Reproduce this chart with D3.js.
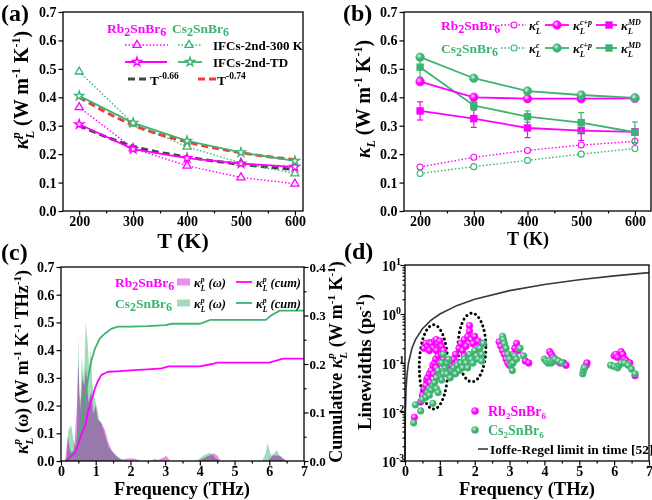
<!DOCTYPE html>
<html>
<head>
<meta charset="utf-8">
<script src="https://cdn.jsdelivr.net/npm/d3@7"></script>
<style>body{margin:0;background:#fff}</style>
</head>
<body>
<script>
// ---- data (a) ----
const temps = [200, 300, 400, 500, 600];
const rb300 = [0.365, 0.220, 0.159, 0.118, 0.096];
const cs300 = [0.490, 0.308, 0.226, 0.169, 0.132];
const rbTD = [0.305, 0.218, 0.186, 0.167, 0.155];
const csTD = [0.405, 0.310, 0.247, 0.206, 0.176];
const fit066 = [0.300, 0.228, 0.190, 0.164, 0.146];
const fit074 = [0.400, 0.302, 0.243, 0.205, 0.180];

// ---- data (b) ----
const rbC = [0.155, 0.189, 0.213, 0.232, 0.245];
const csC = [0.132, 0.156, 0.178, 0.200, 0.220];
const rbCP = [0.455, 0.400, 0.395, 0.395, 0.396];
const csCP = [0.541, 0.467, 0.422, 0.408, 0.398];
const rbMD = [0.352, 0.325, 0.292, 0.283, 0.278];
const rbMDerr = [0.032, 0.031, 0.034, 0.035, 0.012];
const csMD = [0.506, 0.371, 0.332, 0.311, 0.277];
const csMDerr = [0.035, 0.016, 0.020, 0.035, 0.036];

// ---- data (c) ----
const specFreqCs = [0.10, 0.16, 0.21, 0.29, 0.36, 0.42, 0.46, 0.50, 0.53, 0.56, 0.60, 0.64, 0.68, 0.71, 0.76, 0.81, 0.86, 0.90, 0.96, 1.00, 1.06, 1.10, 1.17, 1.25, 1.37, 1.50, 1.70, 1.85, 2.00,
  3.90, 4.10, 4.20, 4.30, 4.45, 4.60, 5.80, 5.90, 5.95, 6.05, 6.15, 6.22, 6.30, 6.45];
const specCs = [0, 0, 0.11, 0.13, 0.076, 0.05, 0.10, 0.45, 0.24, 0.22, 0.38, 0.30, 0.36, 0.50, 0.44, 0.34, 0.40, 0.28, 0.23, 0.21, 0.18, 0.15, 0.135, 0.10, 0.05, 0.03, 0.01, 0.003, 0,
  0, 0.02, 0.025, 0.03, 0.01, 0, 0, 0.03, 0.065, 0.02, 0.03, 0.039, 0.02, 0];
const specFreqRb = [0.12, 0.19, 0.26, 0.36, 0.45, 0.50, 0.55, 0.62, 0.67, 0.72, 0.79, 0.87, 0.93, 1.00, 1.06, 1.17, 1.27, 1.37, 1.46, 1.60, 1.75, 1.85, 2.00, 2.15, 2.30,
  2.60, 2.70, 2.80, 2.90, 3.04, 3.15, 3.95, 4.20, 4.40, 4.50, 4.60, 5.95, 6.10, 6.25, 6.35, 6.50];
const specRb = [0, 0.09, 0.04, 0.02, 0.18, 0.36, 0.18, 0.30, 0.27, 0.34, 0.21, 0.25, 0.17, 0.20, 0.15, 0.135, 0.11, 0.065, 0.04, 0.016, 0.004, 0.008, 0.01, 0.008, 0,
  0, 0.008, 0.004, 0.01, 0.018, 0, 0, 0.015, 0.028, 0.02, 0, 0, 0.02, 0.02, 0.015, 0];
const cumFreqCs = [0.12, 0.26, 0.40, 0.45, 0.52, 0.60, 0.69, 0.79, 0.88, 0.98, 1.12, 1.27, 1.46, 1.65, 2.0, 2.5, 3.0, 3.2, 4.0, 4.3, 5.9, 6.05, 6.3, 7.0];
const cumCs = [0, 0.009, 0.023, 0.026, 0.057, 0.071, 0.133, 0.175, 0.208, 0.232, 0.253, 0.263, 0.273, 0.277, 0.277, 0.278, 0.280, 0.283, 0.283, 0.291, 0.291, 0.300, 0.310, 0.310];
const cumFreqRb = [0.15, 0.26, 0.40, 0.50, 0.60, 0.69, 0.79, 0.88, 0.98, 1.06, 1.17, 1.27, 1.36, 1.6, 2.0, 2.5, 2.9, 3.1, 4.0, 4.35, 4.5, 6.0, 6.4, 7.0];
const cumRb = [0, 0.009, 0.016, 0.036, 0.057, 0.071, 0.105, 0.126, 0.150, 0.164, 0.178, 0.181, 0.184, 0.185, 0.187, 0.189, 0.191, 0.195, 0.195, 0.200, 0.203, 0.203, 0.211, 0.211];

// ---- data (d) [freq THz, linewidth ps^-1] ----
const lwRb = [[0.27,0.0078],[0.45,0.016],[0.5,0.022],[0.55,0.03],[0.6,0.035],[0.62,0.045],[0.65,0.05],[0.7,0.06],[0.72,0.04],[0.75,0.07],[0.8,0.09],[0.82,0.06],[0.85,0.1],[0.88,0.12],[0.9,0.08],[0.95,0.14],[1.0,0.1],[1.05,0.15],[1.1,0.12],
  [0.55,0.2],[0.6,0.25],[0.65,0.22],[0.7,0.26],[0.75,0.25],[0.8,0.2],[0.85,0.28],[0.9,0.3],[0.95,0.25],[1.0,0.28],[1.05,0.22],[1.1,0.18],[0.7,0.18],[0.9,0.18],
  [1.25,0.07],[1.3,0.09],[1.35,0.06],[1.4,0.12],[1.45,0.15],[1.5,0.1],[1.55,0.2],[1.6,0.25],[1.65,0.18],[1.7,0.3],[1.75,0.22],[1.8,0.35],[1.85,0.58],[1.85,0.45],[1.9,0.3],[1.95,0.25],[2.0,0.35],[2.05,0.2],[2.1,0.28],[2.15,0.15],[2.2,0.25],[1.7,0.14],[2.0,0.15],
  [2.7,0.27],[2.75,0.22],[2.8,0.18],[2.85,0.15],[2.9,0.12],[2.95,0.1],[3.0,0.09],[3.05,0.12],[3.1,0.15],[3.15,0.2],[3.2,0.25],[3.25,0.18],[3.45,0.11],[3.55,0.1],
  [4.15,0.17],[4.2,0.15],[4.25,0.13],[4.3,0.12],[4.35,0.11],[4.45,0.1],[4.55,0.1],[4.62,0.09],
  [5.15,0.08],[5.2,0.09],[5.22,0.1],
  [6.0,0.14],[6.05,0.15],[6.1,0.13],[6.2,0.17],[6.25,0.15],[6.3,0.12],[6.35,0.11],[6.45,0.1],[6.6,0.055]];
const lwCs = [[0.25,0.006],[0.3,0.014],[0.45,0.0105],[0.5,0.018],[0.6,0.02],[0.65,0.025],[0.7,0.03],[0.75,0.028],[0.8,0.015],[0.8,0.035],[0.85,0.04],[0.9,0.03],[0.95,0.025],[1.0,0.05],[1.05,0.045],[0.9,0.05],[0.7,0.022],[1.1,0.06],[1.15,0.08],[1.2,0.1],[1.2,0.06],[1.25,0.12],[1.1,0.15],[1.05,0.1],[0.95,0.07],
  [1.3,0.05],[1.35,0.07],[1.4,0.08],[1.45,0.06],[1.5,0.09],[1.55,0.07],[1.6,0.1],[1.65,0.08],[1.7,0.12],[1.75,0.1],[1.8,0.08],[1.85,0.15],[1.9,0.12],[1.95,0.1],[2.0,0.18],[2.05,0.14],[2.1,0.12],[2.15,0.2],[2.2,0.15],[2.25,0.25],[2.2,0.11],
  [2.8,0.35],[2.82,0.3],[2.85,0.25],[2.9,0.2],[2.95,0.15],[3.0,0.12],[3.05,0.09],[3.08,0.07],[3.1,0.1],[3.15,0.14],[3.2,0.12],[3.3,0.2],[3.4,0.14],
  [4.0,0.12],[4.05,0.11],[4.1,0.1],[4.15,0.11],[4.2,0.1],[4.25,0.11],[4.3,0.12],[4.4,0.11],[4.5,0.1],
  [5.1,0.06],[5.12,0.07],[5.15,0.08],
  [5.9,0.09],[6.0,0.085],[6.1,0.08],[6.15,0.09],[6.2,0.1],[6.3,0.1],[6.4,0.09],[6.5,0.075],[6.6,0.06]];
const ioffeFreq = [0.001, 0.003, 0.01, 0.03, 0.06, 0.1, 0.2, 0.3, 0.5, 0.75, 1, 1.5, 2, 3, 4, 5, 6, 7];
const ioffeLw = [0.001, 0.003, 0.01, 0.03, 0.06, 0.1, 0.2, 0.3, 0.5, 0.75, 1, 1.5, 2, 3, 4, 5, 6, 7];
// dotted ellipses: centre freq, centre linewidth, half-width (THz), half-height (decades)
const circF = [0.82, 1.92], circY = [0.083, 0.207], circRF = [0.41, 0.40], circRD = [0.86, 0.70];

const FONT = "'Liberation Serif','Times New Roman',serif";
const MAG = '#ff00ff', GRN = '#3cb371';

const svg = d3.select('body').append('svg')
  .attr('width', 652).attr('height', 500)
  .style('font-family', FONT).style('font-weight', 'bold');

const defs = svg.append('defs');
[['gm', '#ffd6ff', MAG], ['gg', '#d2f2df', GRN]].forEach(([id, c0, c1]) => {
  const rg = defs.append('radialGradient').attr('id', id).attr('cx', '38%').attr('cy', '35%').attr('r', '65%');
  rg.append('stop').attr('offset', '0%').attr('stop-color', c0);
  rg.append('stop').attr('offset', '55%').attr('stop-color', c1);
  rg.append('stop').attr('offset', '100%').attr('stop-color', c1);
});

// rich text with sub/superscripts
function rich(sel, parts) {
  let cur = 0, pend = 0;
  for (const [str, o = {}] of parts) {
    if (o.stack) {
      const [sp, sb] = o.stack;
      const a = sel.append('tspan').text(sp).attr('font-size', o.size).attr('font-style', 'italic').attr('dy', -o.up - cur);
      if (pend) a.attr('dx', pend);
      const wa = a.node().getComputedTextLength();
      const b = sel.append('tspan').text(sb).attr('font-size', o.size).attr('font-style', 'italic')
        .attr('dy', o.up + o.down).attr('dx', -wa);
      const wb = b.node().getComputedTextLength();
      cur = o.down; pend = Math.max(0, wa - wb);
      continue;
    }
    const s = o.shift || 0;
    const t = sel.append('tspan').text(str);
    if (s !== cur) t.attr('dy', s - cur);
    cur = s;
    const dx = (o.dx || 0) + pend; pend = 0;
    if (dx) t.attr('dx', dx);
    if (o.size) t.attr('font-size', o.size);
    if (o.it) t.attr('font-style', 'italic');
    if (o.fill) t.attr('fill', o.fill);
  }
  return sel;
}
const mat = (a, b, sub) => [[a], ['2', {shift: sub.sh, size: sub.sz}], ['SnBr'], ['6', {shift: sub.sh, size: sub.sz}]];
const kap = (sup, sub, size) => [['κ', {it: true}], ['', {stack: [sup, sub], size: size * 0.62, up: size * 0.42, down: size * 0.28}]];

function text(x, y, size, fill, anchor) {
  return svg.append('text').attr('x', x).attr('y', y).attr('font-size', size)
    .attr('fill', fill || '#000').attr('text-anchor', anchor || 'start');
}
function vtext(x, y, size) {
  return svg.append('text').attr('transform', `translate(${x},${y}) rotate(-90)`)
    .attr('font-size', size).attr('text-anchor', 'middle');
}
function box(p) {
  svg.append('rect').attr('x', p.l).attr('y', p.t).attr('width', p.r - p.l).attr('height', p.b - p.t)
    .attr('fill', 'none').attr('stroke', '#000').attr('stroke-width', 1.3);
}
function styleAxis(g, size) {
  g.attr('font-family', FONT).attr('font-size', size).attr('font-weight', 'bold');
  g.select('.domain').remove();
  g.selectAll('line').attr('stroke-width', 1.2);
}
function xAxis(p, x, major, minor, fmt, size) {
  styleAxis(svg.append('g').attr('transform', `translate(0,${p.b})`)
    .call(d3.axisBottom(x).tickValues(minor).tickSize(2.5).tickFormat('')), size);
  styleAxis(svg.append('g').attr('transform', `translate(0,${p.b})`)
    .call(d3.axisBottom(x).tickValues(major).tickSize(4.5).tickPadding(0.5).tickFormat(fmt)), size);
}
function yAxis(p, y, major, fmt, size, right) {
  const ax = (right ? d3.axisRight(y) : d3.axisLeft(y)).tickValues(major).tickSize(4.5).tickPadding(right ? 1 : 2).tickFormat(fmt);
  styleAxis(svg.append('g').attr('transform', `translate(${right ? p.r : p.l},0)`).call(ax), size);
}

// ================= (a) =================
const PA = {l: 63, r: 303, t: 12, b: 211};
const xa = d3.scaleLinear([170, 615], [PA.l, PA.r]);
const ya = d3.scaleLinear([0, 0.7], [PA.b, PA.t]);
const lineA = d3.line().x((d, i) => xa(temps[i])).y(d => ya(d));
const lineAs = d3.line().curve(d3.curveMonotoneX).x((d, i) => xa(temps[i])).y(d => ya(d));

svg.append('path').attr('d', lineAs(fit066)).attr('fill', 'none').attr('stroke', '#444').attr('stroke-width', 3).attr('stroke-dasharray', '7,4');
svg.append('path').attr('d', lineAs(fit074)).attr('fill', 'none').attr('stroke', '#ee3b3b').attr('stroke-width', 3).attr('stroke-dasharray', '7,4');

const tri = d3.symbol(d3.symbolTriangle, 28);
const star = d3.symbol(d3.symbolStar, 26);
const seriesA = [
  [rb300, MAG, '1.5,2', tri], [cs300, GRN, '1.5,2', tri],
  [rbTD, MAG, null, star], [csTD, GRN, null, star]
];
seriesA.forEach(([vals, col, dash, sym]) => {
  svg.append('path').attr('d', lineA(vals)).attr('fill', 'none').attr('stroke', col)
    .attr('stroke-width', dash ? 1.4 : 1.8).attr('stroke-dasharray', dash);
  svg.append('g').selectAll('path').data(vals).join('path')
    .attr('transform', (d, i) => `translate(${xa(temps[i])},${ya(d)})`)
    .attr('d', sym).attr('fill', '#fff').attr('stroke', col).attr('stroke-width', 1.3);
});
box(PA);
xAxis(PA, xa, temps, [250, 350, 450, 550], d3.format('d'), 14);
yAxis(PA, ya, d3.range(0, 0.71, 0.1), d3.format('.1f'), 14);
text(183, 248, 22, '#000', 'middle').text('T (K)');
text(1, 21, 24).text('(a)');
rich(vtext(28, 90, 20), [...kap('p', 'L', 20), [' (W m'], ['-1', {shift: -8, size: 12}], [' K'], ['-1', {shift: -8, size: 12}], [')']]);

// legend (a)
const subA = {sh: 3, sz: 12};
rich(text(107, 33, 13.5, MAG), mat('Rb', 'Sn', subA));
rich(text(172, 33, 13.5, GRN), mat('Cs', 'Sn', subA));
function legLine(x1, x2, y, col, dash, w) {
  svg.append('line').attr('x1', x1).attr('x2', x2).attr('y1', y).attr('y2', y)
    .attr('stroke', col).attr('stroke-width', w).attr('stroke-dasharray', dash);
}
function legSym(x, y, sym, col, fill) {
  svg.append('path').attr('transform', `translate(${x},${y})`).attr('d', sym)
    .attr('fill', fill || '#fff').attr('stroke', col).attr('stroke-width', 1.3);
}
legLine(125, 168, 45, MAG, '1.5,2', 1.4); legSym(137, 45, tri, MAG);
legLine(178, 201, 45, GRN, '1.5,2', 1.4); legSym(189, 45, tri, GRN);
text(213, 50, 13).text('IFCs-2nd-300 K');
legLine(125, 167, 62, MAG, null, 1.8); legSym(137, 62, star, MAG);
legLine(178, 202, 62, GRN, null, 1.8); legSym(190, 62, star, GRN);
text(213, 67, 13).text('IFCs-2nd-TD');
legLine(128, 150, 79, '#444', '7,4', 3);
rich(text(150, 85, 13.5), [['T'], ['-0.66', {shift: -6, size: 9.5}]]);
legLine(198, 218, 79, '#ee3b3b', '7,4', 3);
rich(text(217, 85, 13.5), [['T'], ['-0.74', {shift: -6, size: 9.5}]]);

// ================= (b) =================
const PB = {l: 404, r: 651, t: 12, b: 211};
const xb = d3.scaleLinear([170, 630], [PB.l, PB.r]);
const yb = d3.scaleLinear([0, 0.7], [PB.b, PB.t]);
const lineB = d3.line().x((d, i) => xb(temps[i])).y(d => yb(d));
const sq = d3.symbol(d3.symbolSquare, 55);

function seriesB(vals, col, kind, err) {
  svg.append('path').attr('d', lineB(vals)).attr('fill', 'none').attr('stroke', col)
    .attr('stroke-width', kind === 'c' ? 1.4 : 1.8).attr('stroke-dasharray', kind === 'c' ? '1.5,2' : null);
  if (err) {
    const eg = svg.append('g').attr('stroke', col).attr('stroke-width', 1.2);
    vals.forEach((v, i) => {
      const x = xb(temps[i]), y1 = yb(v - err[i]), y2 = yb(v + err[i]);
      eg.append('line').attr('x1', x).attr('x2', x).attr('y1', y1).attr('y2', y2);
      eg.append('line').attr('x1', x - 3).attr('x2', x + 3).attr('y1', y1).attr('y2', y1);
      eg.append('line').attr('x1', x - 3).attr('x2', x + 3).attr('y1', y2).attr('y2', y2);
    });
  }
  const g = svg.append('g');
  const grad = col === MAG ? 'url(#gm)' : 'url(#gg)';
  vals.forEach((v, i) => drawMarkB(g, xb(temps[i]), yb(v), col, kind, grad));
}
function drawMarkB(g, x, y, col, kind, grad) {
  if (kind === 'c') g.append('circle').attr('cx', x).attr('cy', y).attr('r', 3).attr('fill', '#fff').attr('stroke', col).attr('stroke-width', 1.1);
  else if (kind === 'cp') g.append('circle').attr('cx', x).attr('cy', y).attr('r', 4.3).attr('fill', grad).attr('stroke', col).attr('stroke-width', 0.6);
  else g.append('path').attr('transform', `translate(${x},${y})`).attr('d', sq).attr('fill', col);
}
seriesB(rbC, MAG, 'c'); seriesB(csC, GRN, 'c');
seriesB(rbMD, MAG, 'md', rbMDerr); seriesB(csMD, GRN, 'md', csMDerr);
seriesB(rbCP, MAG, 'cp'); seriesB(csCP, GRN, 'cp');
box(PB);
xAxis(PB, xb, temps, [250, 350, 450, 550], d3.format('d'), 14);
yAxis(PB, yb, d3.range(0, 0.71, 0.1), d3.format('.1f'), 14);
text(528, 245, 18, '#000', 'middle').text('T (K)');
text(343, 21, 24).text('(b)');
rich(vtext(370, 99, 20), [['κ', {it: true}], ['L', {it: true, shift: 5, size: 12}], [' (W m'], ['-1', {shift: -8, size: 12}], [' K'], ['-1', {shift: -8, size: 12}], [')']]);

// legend (b)
[[MAG, 25, 'Rb'], [GRN, 48, 'Cs']].forEach(([col, y, a]) => {
  const grad = col === MAG ? 'url(#gm)' : 'url(#gg)';
  rich(text(441, y + 5, 13.5, col), mat(a, 'Sn', subA));
  legLine(501, 526, y, col, '1.5,2', 1.4); drawMarkB(svg, 514, y, col, 'c', grad);
  rich(text(529, y + 5, 13), kap('c', 'L', 13));
  legLine(545, 569, y, col, null, 1.8); drawMarkB(svg, 557, y, col, 'cp', grad);
  rich(text(573, y + 5, 13), kap('c+p', 'L', 13));
  legLine(596, 617, y, col, null, 1.8); drawMarkB(svg, 609, y, col, 'md', grad);
  rich(text(621, y + 5, 13), kap('MD', 'L', 13));
});

// ================= (c) =================
const PC = {l: 61, r: 304, t: 267, b: 461};
const xc = d3.scaleLinear([0, 7], [PC.l, PC.r]);
const yc = d3.scaleLinear([0, 0.7], [PC.b, PC.t]);
const yc2 = d3.scaleLinear([0, 0.4], [PC.b, PC.t]);
const CS_FILL = '#a5d9bb', RB_FILL = '#ea8eeb';

const areaCs = d3.area().x((d, i) => xc(specFreqCs[i])).y0(yc(0)).y1(d => yc(d));
const areaRb = d3.area().x((d, i) => xc(specFreqRb[i])).y0(yc(0)).y1(d => yc(d));
svg.append('path').attr('d', areaCs(specCs)).attr('fill', CS_FILL);
svg.append('path').attr('d', areaRb(specRb)).attr('fill', RB_FILL).style('mix-blend-mode', 'multiply');
const cumLineCs = d3.line().x((d, i) => xc(cumFreqCs[i])).y(d => yc2(d));
const cumLineRb = d3.line().x((d, i) => xc(cumFreqRb[i])).y(d => yc2(d));
svg.append('path').attr('d', cumLineCs(cumCs)).attr('fill', 'none').attr('stroke', GRN).attr('stroke-width', 1.8);
svg.append('path').attr('d', cumLineRb(cumRb)).attr('fill', 'none').attr('stroke', MAG).attr('stroke-width', 1.8);
box(PC);
xAxis(PC, xc, d3.range(0, 8), d3.range(0.5, 7, 1), d3.format('d'), 14);
yAxis(PC, yc, d3.range(0, 0.71, 0.1), d3.format('.1f'), 14);
styleAxis(svg.append('g').attr('transform', `translate(${PC.r},0)`)
  .call(d3.axisRight(yc2).tickValues([0.05, 0.15, 0.25, 0.35]).tickSize(2.5).tickFormat('')), 14);
yAxis(PC, yc2, [0, 0.1, 0.2, 0.3, 0.4], d3.format('.1f'), 13, true);
text(182, 495, 18.5, '#000', 'middle').text('Frequency (THz)');
text(1, 260, 24).text('(c)');
rich(vtext(28, 362, 18), [...kap('p', 'L', 18), [' (ω) (W m'], ['-1', {shift: -7, size: 11}], [' K'], ['-1', {shift: -7, size: 11}], [' THz'], ['-1', {shift: -7, size: 11}], [')']]);

// legend (c)
[[MAG, 282, 'Rb', RB_FILL], [GRN, 303, 'Cs', CS_FILL]].forEach(([col, y, a, fill]) => {
  rich(text(115, y + 5, 13.5, col), mat(a, 'Sn', subA));
  svg.append('rect').attr('x', 177).attr('y', y - 3.5).attr('width', 13).attr('height', 7).attr('fill', fill);
  rich(text(194, y + 5, 12.5), [...kap('p', 'L', 12.5), [' (ω)', {it: true}]]);
  legLine(236, 252, y, col, null, 1.8);
  rich(text(256, y + 5, 12.5), [...kap('p', 'L', 12.5), [' (cum)', {it: true}]]);
});

// ================= (d) =================
const PD = {l: 405, r: 649, t: 265, b: 461};
const xd = d3.scaleLinear([0, 7], [PD.l, PD.r]);
const yd = d3.scaleLog([1e-3, 10], [PD.b, PD.t]);

svg.append('path').attr('d', d3.line().x((d, i) => xd(ioffeFreq[i])).y(d => yd(d))(ioffeLw))
  .attr('fill', 'none').attr('stroke', '#3a3a3a').attr('stroke-width', 1.6);
circF.forEach((f, i) => {
  const cy = yd(circY[i]);
  const ry = (PD.b - PD.t) / 4 * circRD[i];
  svg.append('ellipse').attr('cx', xd(f)).attr('cy', cy).attr('rx', xd(f + circRF[i]) - xd(f)).attr('ry', ry)
    .attr('fill', 'none').attr('stroke', '#000').attr('stroke-width', 3)
    .attr('stroke-dasharray', '0.1,4.6').attr('stroke-linecap', 'round');
});
[[lwRb, 'url(#gm)', MAG], [lwCs, 'url(#gg)', GRN]].forEach(([pts, grad, col]) => {
  svg.append('g').selectAll('circle').data(pts).join('circle')
    .attr('cx', d => xd(d[0])).attr('cy', d => yd(d[1])).attr('r', 3.4)
    .attr('fill', grad).attr('stroke', col).attr('stroke-width', 0.4);
});
box(PD);
xAxis(PD, xd, d3.range(0, 8), d3.range(0.5, 7, 1), d3.format('d'), 14);
const minorLog = [];
[1e-3, 1e-2, 1e-1, 1].forEach(dec => d3.range(2, 10).forEach(m => minorLog.push(dec * m)));
styleAxis(svg.append('g').attr('transform', `translate(${PD.l},0)`)
  .call(d3.axisLeft(yd).tickValues(minorLog).tickSize(2.5).tickFormat('')), 14);
styleAxis(svg.append('g').attr('transform', `translate(${PD.l},0)`)
  .call(d3.axisLeft(yd).tickValues([1e-3, 1e-2, 1e-1, 1, 10]).tickSize(4.5).tickFormat('')), 14);
[1e-3, 1e-2, 1e-1, 1, 10].forEach(v => {
  const e = Math.round(Math.log10(v));
  rich(text(382, yd(v) + 6, 14), [['10'], [String(e), {shift: -6, size: 10}]]);
});
text(527, 495, 18.5, '#000', 'middle').text('Frequency (THz)');
text(344, 259, 24).text('(d)');
rich(vtext(371, 362, 19), [['Linewidths (ps'], ['-1', {shift: -7, size: 12}], [')']]);
rich(vtext(342, 362, 18), [['Cumulative '], ...kap('p', 'L', 18), [' (W m'], ['-1', {shift: -7, size: 11}], [' K'], ['-1', {shift: -7, size: 11}], [')']]);

// legend (d)
const subD = {sh: 3, sz: 9};
svg.append('circle').attr('cx', 475).attr('cy', 411).attr('r', 3.6).attr('fill', 'url(#gm)').attr('stroke', MAG).attr('stroke-width', 0.4);
rich(text(488, 416, 14, MAG), mat('Rb', 'Sn', subD));
svg.append('circle').attr('cx', 475).attr('cy', 430).attr('r', 3.6).attr('fill', 'url(#gg)').attr('stroke', GRN).attr('stroke-width', 0.4);
rich(text(488, 435, 14, GRN), mat('Cs', 'Sn', subD));
legLine(478, 488, 449, '#3a3a3a', null, 1.6);
text(490, 454, 13.5).text('Ioffe-Regel limit in time [52]');
</script>
</body>
</html>
